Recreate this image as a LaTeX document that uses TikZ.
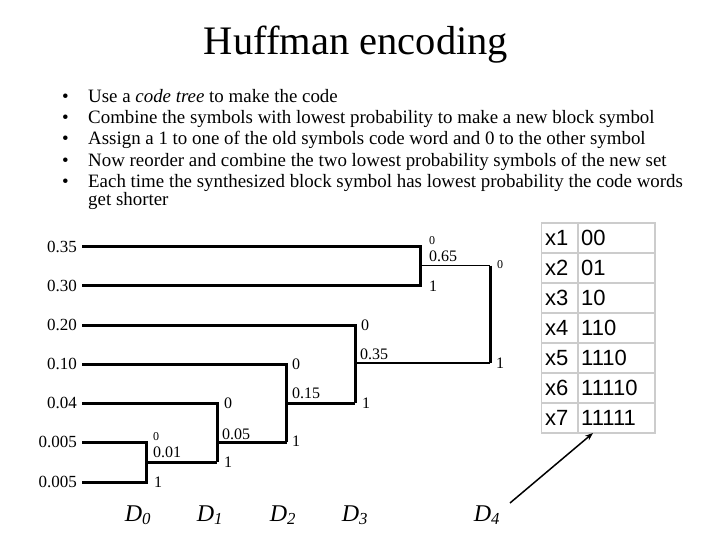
\documentclass[tikz,border=0pt]{standalone}
\usepackage{fontspec}
\setmainfont{Liberation Serif}
\setsansfont{Liberation Sans}
\usetikzlibrary{arrows.meta}

\tikzset{
  problab/.style={anchor=east, inner sep=5pt, font=\fontsize{17}{17}\selectfont},
  bitlab/.style={anchor=west, inner sep=0pt, font=\fontsize{16}{16}\selectfont},
  smallbit/.style={anchor=west, inner sep=0pt, font=\fontsize{12}{12}\selectfont},
  sumlab/.style={anchor=west, inner sep=0pt, font=\fontsize{16}{16}\selectfont},
  branch/.style={line width=3pt},
  thinbranch/.style={line width=1.3pt},
  cell/.style={draw=gray!40, line width=1.5pt},
  celltext/.style={anchor=west, inner sep=0pt, font=\sffamily\fontsize{22}{22}\selectfont},
  stagelab/.style={anchor=base, inner sep=0pt, font=\itshape\fontsize{24}{24}\selectfont},
  bullettext/.style={anchor=base west, inner sep=0pt, font=\fontsize{18.9}{18.9}\selectfont},
}

\begin{document}
\begin{tikzpicture}[x=1pt, y=-1pt]
  % page = 720 x 540, y runs downwards like the slide
  \useasboundingbox (0,0) rectangle (720,540);

  % title and bullet list
  \node[anchor=base, inner sep=0pt, font=\fontsize{40.5}{40.5}\selectfont] (title) at (356,55) {Huffman encoding};
  \foreach \yb/\txt in {103/{Use a \textit{code tree} to make the code},
                        124/{Combine the symbols with lowest probability to make a new block symbol},
                        145/{Assign a 1 to one of the old symbols code word and 0 to the other symbol},
                        166.5/{Now reorder and combine the two lowest probability symbols of the new set},
                        188/{Each time the synthesized block symbol has lowest probability the code words}}{
     \node[bullettext] at (62,\yb) {\textbullet};
     \node[bullettext] at (88,\yb) {\txt};}
  \node[bullettext] (last) at (88,206) {get shorter};

  % symbol probabilities, one row each
  \foreach \i/\yr/\p in {1/246.5/0.35, 2/285.5/0.30, 3/325/0.20, 4/364/0.10,
                         5/403/0.04, 6/442/0.005, 7/482/0.005}{
     \node[problab] (p\i) at (82,\yr) {\p};}

  % junctions of the code tree
  \coordinate (a0) at (146,442);   \coordinate (a1) at (146,482);   \coordinate (am) at (146,462);
  \coordinate (b0) at (217,403);   \coordinate (b1) at (217,462);   \coordinate (bm) at (217,442);
  \coordinate (c0) at (286.5,364); \coordinate (c1) at (286.5,442); \coordinate (cm) at (286.5,403);
  \coordinate (d0) at (355,325);   \coordinate (d1) at (355,403);   \coordinate (dm) at (355,363);
  \coordinate (e0) at (420.5,246.5); \coordinate (e1) at (420.5,285.5); \coordinate (em) at (420.5,265.5);
  \coordinate (f0) at (490,265.5); \coordinate (f1) at (490,363);

  % merges, from D0 to D4
  \draw[branch] (p6.east) -- (a0) -- (a1) -- (p7.east);
  \draw[branch] (am) -- (b1);
  \draw[branch] (p5.east) -- (b0) -- (b1);
  \draw[branch] (bm) -- (c1);
  \draw[branch] (p4.east) -- (c0) -- (c1);
  \draw[branch] (cm) -- (d1);
  \draw[branch] (p3.east) -- (d0) -- (d1);
  \draw[branch] (p1.east) -- (e0) -- (e1) -- (p2.east);
  \draw[thinbranch] (em) -- (f0);
  \draw[thinbranch] (dm) -- (f1);
  \draw[branch] (f0) -- (f1);

  % bits and merged probabilities
  \node[smallbit] at (153,437) {0};
  \node[sumlab]   at (153,452) {0.01};
  \node[bitlab]   at (154,482) {1};
  \node[bitlab]   at (224,403) {0};
  \node[sumlab]   at (222,434) {0.05};
  \node[bitlab]   at (224,462) {1};
  \node[bitlab]   at (292,364) {0};
  \node[sumlab]   at (292,393) {0.15};
  \node[bitlab]   at (292,441) {1};
  \node[bitlab]   at (361,325) {0};
  \node[sumlab]   at (360,354) {0.35};
  \node[bitlab]   at (362,403) {1};
  \node[smallbit] at (429,241) {0};
  \node[sumlab]   at (429,256) {0.65};
  \node[bitlab]   at (429,286) {1};
  \node[smallbit] at (497,265) {0};
  \node[bitlab]   at (496,363) {1};

  % stages
  \foreach \j/\xs in {0/138, 1/210, 2/283, 3/355, 4/487}{
     \node[stagelab] (D\j) at (\xs,521) {D\textsubscript{\j}};}

  % code table
  \foreach \i/\sym/\code in {1/x1/00, 2/x2/01, 3/x3/10, 4/x4/110,
                             5/x5/1110, 6/x6/11110, 7/x7/11111}{
     \draw[cell] (541.5,{223+30*(\i-1)}) rectangle (578,{223+30*\i});
     \draw[cell] (578,{223+30*(\i-1)}) rectangle (655,{223+30*\i});
     \node[celltext] (sym\i) at (545,{238+30*(\i-1)}) {\sym};
     \node[celltext] (code\i) at (581,{238+30*(\i-1)}) {\code};}

  % D4 gives the code words
  \coordinate (tail) at (510,503);
  \coordinate (tip) at (593,433);
  \draw[line width=1.5pt, -{Stealth[length=8pt, width=6pt]}] (tail) -- (tip);
\end{tikzpicture}
\end{document}
